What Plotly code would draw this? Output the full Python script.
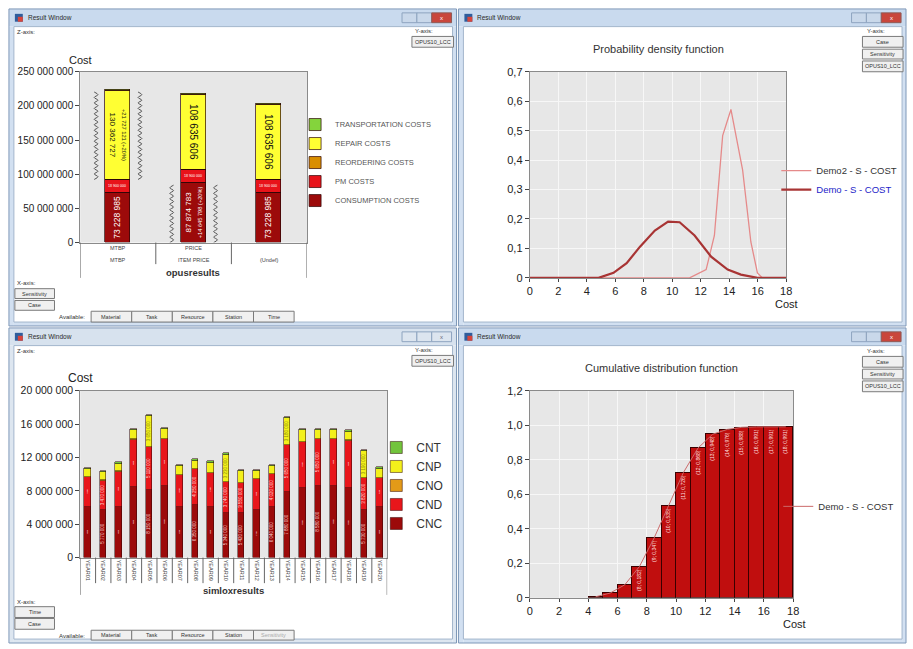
import numpy as np
import plotly.graph_objects as go

W, H = 913, 649
FONT = "Liberation Sans, Arial, sans-serif"

# ---------------- data ----------------
# Top-left window: opusresults (stacked costs)
opus_level1 = ["MTBP", "PRICE", ""]
opus_level2 = ["MTBP", "ITEM PRICE", "(Undef)"]
opus_consumption = [73228985, 87874783, 73228985]
opus_pm = [18900000, 18900000, 18900000]
opus_reordering = [250000, 250000, 250000]
opus_repair = [130362727, 108635606, 108635606]
opus_transport = [1500000, 1500000, 1500000]
opus_names = ["CONSUMPTION COSTS", "PM COSTS", "REORDERING COSTS", "REPAIR COSTS", "TRANSPORTATION COSTS"]
opus_yticks = [0, 50000000, 100000000, 150000000, 200000000, 250000000]

# Top-right window: probability density function
pdf_demo2_x = [0, 4, 8, 11.22, 12.38, 12.96, 13.54, 14.12, 14.94, 15.52, 15.98, 16.33, 18]
pdf_demo2_y = [0, 0, 0, 0, 0.028, 0.144, 0.483, 0.572, 0.367, 0.122, 0.017, 0, 0]
pdf_demo_x = [0, 2, 4, 4.83, 5.88, 6.8, 7.74, 8.78, 9.71, 10.52, 11.57, 12.73, 13.89, 14.82, 15.98, 18]
pdf_demo_y = [0, 0, 0, 0, 0.017, 0.05, 0.106, 0.161, 0.191, 0.189, 0.144, 0.072, 0.028, 0.011, 0, 0]
pdf_xticks = [0, 2, 4, 6, 8, 10, 12, 14, 16, 18]
pdf_yticks = [0, 0.1, 0.2, 0.3, 0.4, 0.5, 0.6, 0.7]

# Bottom-left window: simloxresults (stacked yearly costs)
years = ["YEAR01", "YEAR02", "YEAR03", "YEAR04", "YEAR05", "YEAR06", "YEAR07", "YEAR08", "YEAR09", "YEAR10",
         "YEAR11", "YEAR12", "YEAR13", "YEAR14", "YEAR15", "YEAR16", "YEAR17", "YEAR18", "YEAR19", "YEAR20"]
cnc = [6040000, 5770000, 6040000, 8500000, 8150000, 8580000, 6120000, 6350000, 6040000, 5340000,
       5420000, 5770000, 6040000, 7880000, 8380000, 8580000, 8580000, 8380000, 5730000, 6040000]
cnd = [3630000, 3470000, 4290000, 5650000, 5110000, 5650000, 3820000, 4250000, 4100000, 3740000,
       3550000, 3630000, 4020000, 5650000, 5460000, 5650000, 5650000, 5660000, 3820000, 3510000]
cno = [50000, 50000, 50000, 50000, 50000, 50000, 50000, 50000, 50000, 50000,
       50000, 50000, 50000, 50000, 50000, 50000, 50000, 50000, 50000, 50000]
cnp = [920000, 960000, 890000, 1080000, 3650000, 1120000, 1010000, 970000, 1230000, 3230000,
       1350000, 960000, 890000, 3180000, 1430000, 1040000, 1040000, 1040000, 3190000, 1040000]
cnt = [160000, 150000, 190000, 160000, 140000, 160000, 150000, 190000, 160000, 150000,
       160000, 160000, 150000, 160000, 160000, 160000, 160000, 150000, 150000, 200000]
simlox_names = ["CNC", "CND", "CNO", "CNP", "CNT"]
simlox_yticks = [0, 4000000, 8000000, 12000000, 16000000, 20000000]

# Bottom-right window: cumulative distribution function
cdf_x = [4.5, 5.5, 6.5, 7.5, 8.5, 9.5, 10.5, 11.5, 12.5, 13.5, 14.5, 15.5, 16.5, 17.5]
cdf_y = [0.006, 0.028, 0.076, 0.182, 0.347, 0.535, 0.726, 0.868, 0.948, 0.976, 0.988, 0.991, 0.991, 0.991]
cdf_xticks = [0, 2, 4, 6, 8, 10, 12, 14, 16, 18]
cdf_yticks = [0, 0.2, 0.4, 0.6, 0.8, 1.0, 1.2]


# ---------------- helpers ----------------
def px(x):
    return x / W


def py(y):
    return 1 - y / H


def fmt_int(v):
    return f"{v:,.0f}".replace(",", " ")


def fmt_dec(v, nd=1):
    return "0" if v == 0 else f"{v:.{nd}f}".replace(".", ",")


shapes, annotations = [], []


def rect(x0, y0, x1, y1, fill=None, line=None, lw=1):
    shapes.append(dict(type="rect", xref="paper", yref="paper",
                       x0=px(x0), x1=px(x1), y0=py(y1), y1=py(y0),
                       fillcolor=fill or "rgba(0,0,0,0)",
                       line=dict(color=line or "rgba(0,0,0,0)", width=lw if line else 0)))


def label(x, y, s, size=7, color="#333", xanchor="left", yanchor="middle"):
    annotations.append(dict(xref="paper", yref="paper", x=px(x), y=py(y), text=s, showarrow=False,
                            xanchor=xanchor, yanchor=yanchor, font=dict(size=size, color=color, family=FONT)))


def button(x0, y0, x1, y1, s, color="#333"):
    rect(x0, y0, x1, y1, fill="#f0f0f0", line="#7a7a7a", lw=1)
    label((x0 + x1) / 2, (y0 + y1) / 2, s, size=5.5, color=color, xanchor="center")


def window(x0, y0, x1, y1, active=True):
    frame = "#d2e0f1" if active else "#dde6f0"
    rect(x0, y0, x1, y0 + 18, fill="#c9daee" if active else "#d7e2ee")
    rect(x0, y0 + 18, x0 + 5, y1, fill=frame)
    rect(x1 - 4, y0 + 18, x1, y1, fill=frame)
    rect(x0 + 5, y1 - 4, x1 - 4, y1, fill=frame)
    rect(x0, y0, x1, y1, line="#7f98b8", lw=1)
    rect(x0 + 5, y0 + 18, x1 - 4, y1 - 4, line="#a3b6cc", lw=1)
    rect(x0 + 6, y0 + 5, x0 + 14, y0 + 13, fill="#2f5d9c")
    rect(x0 + 9, y0 + 8, x0 + 14, y0 + 13, fill="#d9453a")
    label(x0 + 17, y0 + 9, "Result Window", size=6.5, color="#2a2a2a")
    bcol = "#c9d8ea" if active else "#dce5ef"
    rect(x1 - 55, y0 + 4, x1 - 40, y0 + 14, fill=bcol, line="#8ea4bf")
    rect(x1 - 40, y0 + 4, x1 - 25, y0 + 14, fill=bcol, line="#8ea4bf")
    rect(x1 - 25, y0 + 4, x1 - 5, y0 + 14, fill="#c9463c" if active else "#dce5ef", line="#8e5a55" if active else "#8ea4bf")
    label(x1 - 15, y0 + 9, "x", size=6, color="#fff" if active else "#667", xanchor="center")


# ---------------- window chrome ----------------
window(6, 3, 458, 326)
window(460, 3, 912, 326)
window(6, 328, 458, 649, active=False)
window(460, 328, 912, 649)

label(12, 26, "Z-axis:", size=6)
label(414, 25, "Y-axis:", size=6)
button(413, 31, 455, 42, "OPUS10_LCC")
label(12, 282, "X-axis:", size=6)
button(12, 288, 52, 298, "Sensitivity")
button(12, 300, 52, 310, "Case")
label(70, 317, "Available:", size=6, xanchor="center")
for i, t in enumerate(["Material", "Task", "Resource", "Station", "Time"]):
    button(89 + 41 * i, 311, 130 + 41 * i, 322, t)

label(871, 25, "Y-axis:", size=6)
button(868, 31, 909, 42, "Case")
button(868, 44, 909, 54, "Sensitivity")
button(868, 56, 909, 67, "OPUS10_LCC")

label(12, 351, "Z-axis:", size=6)
label(414, 350, "Y-axis:", size=6)
button(413, 356, 455, 367, "OPUS10_LCC")
label(12, 607, "X-axis:", size=6)
button(12, 612, 52, 623, "Time")
button(12, 624, 52, 635, "Case")
label(70, 642, "Available:", size=6, xanchor="center")
for i, t in enumerate(["Material", "Task", "Resource", "Station", "Sensitivity"]):
    button(89 + 41 * i, 636, 130 + 41 * i, 646, t, color="#aaa" if i == 4 else "#333")

label(871, 352, "Y-axis:", size=6)
button(868, 357, 909, 368, "Case")
button(868, 370, 909, 380, "Sensitivity")
button(868, 382, 909, 393, "OPUS10_LCC")

# ---------------- traces ----------------
fig = go.Figure()

opus_x = list(range(len(opus_level2)))
base_idx = len(opus_level2) - 1  # reference column ((Undef))
opus_series = [opus_consumption, opus_pm, opus_reordering, opus_repair, opus_transport]
opus_colors = ["#9c0a0a", "#e8131a", "#d98e00", "#ffff33", "#84d43c"]


def seg_text(vals):
    out = []
    for v in vals:
        d = v - vals[base_idx]
        if d != 0:
            pct = round(100 * d / vals[base_idx])
            out.append((fmt_int(v), f"+{fmt_int(d)} (+{pct}%)"))
        else:
            out.append((fmt_int(v), None))
    return out


cons_t = []
for big, small in seg_text(opus_consumption):
    cons_t.append(big if small is None else f"{big}<br><span style='font-size:6px'>{small}</span>")
rep_t = []
for big, small in seg_text(opus_repair):
    rep_t.append(big if small is None else f"<span style='font-size:6px'>{small}</span><br><span style='font-size:8.5px'>{big}</span>")
pm_t = [fmt_int(v) for v in opus_pm]

opus_texts = [cons_t, pm_t, ["", "", ""], rep_t, ["", "", ""]]
opus_angles = [-90, 0, 0, 90, 0]
opus_tsize = [8.5, 4, 4, 10, 4]
opus_tcolor = ["#ffffff", "#ffffff", "#000", "#111111", "#000"]

for name, vals, col, txt, ang, ts, tc in zip(opus_names, opus_series, opus_colors, opus_texts,
                                             opus_angles, opus_tsize, opus_tcolor):
    fig.add_trace(go.Bar(x=opus_x, y=vals, name=name, width=0.33,
                         marker=dict(color=col, line=dict(color="#2b0505", width=0.7)),
                         text=txt, textposition="inside", insidetextanchor="middle",
                         textangle=ang, textfont=dict(size=ts, color=tc, family=FONT),
                         constraintext="inside", cliponaxis=False,
                         xaxis="x", yaxis="y", legend="legend", hoverinfo="skip"))

bottom = np.zeros(len(opus_x))
for si, vals in enumerate(opus_series):
    for i, v in enumerate(vals):
        if v != vals[base_idx]:
            y0 = float(bottom[i])
            y1 = y0 + v
            ys = np.arange(y0, y1 + 1, 4.0e6)
            wig = np.where(np.arange(len(ys)) % 2 == 0, -0.025, 0.025)
            for side in (-1, 1):
                fig.add_trace(go.Scatter(x=(opus_x[i] + side * 0.29 + wig).tolist(), y=ys.tolist(),
                                         mode="lines", line=dict(color="#555", width=1, shape="spline"),
                                         showlegend=False, hoverinfo="skip", xaxis="x", yaxis="y"))
    bottom = bottom + np.array(vals, dtype=float)

fig.add_trace(go.Scatter(x=pdf_demo2_x, y=pdf_demo2_y, mode="lines", name="Demo2 - S - COST",
                         line=dict(color="#e58a8a", width=1.3), xaxis="x2", yaxis="y2",
                         legend="legend2", hoverinfo="skip"))
fig.add_trace(go.Scatter(x=pdf_demo_x, y=pdf_demo_y, mode="lines",
                         name="<span style='color:#2424c8'>Demo - S - COST</span>",
                         line=dict(color="#a83434", width=2.2), xaxis="x2", yaxis="y2",
                         legend="legend2", hoverinfo="skip"))

sim_x = list(range(len(years)))
sim_series = [cnc, cnd, cno, cnp, cnt]
sim_colors = ["#9c0a0a", "#e8161b", "#e39a18", "#f3f01b", "#72c43c"]
sim_texts = [[fmt_int(v) for v in cnc], [fmt_int(v) for v in cnd], [""] * len(cno),
             [fmt_int(v) if v > 2000000 else "" for v in cnp], [""] * len(cnt)]
sim_tcolor = ["#f4d0d0", "#ffd6d6", "#000", "#8a8a10", "#000"]
for name, vals, col, txt, tc in zip(simlox_names, sim_series, sim_colors, sim_texts, sim_tcolor):
    fig.add_trace(go.Bar(x=sim_x, y=vals, name=name, width=0.43,
                         marker=dict(color=col, line=dict(color="#2b0505", width=0.5)),
                         text=txt, textposition="inside", insidetextanchor="middle",
                         textangle=-90, textfont=dict(size=4.5, color=tc, family=FONT),
                         xaxis="x3", yaxis="y3", legend="legend3", hoverinfo="skip"))

fig.add_trace(go.Bar(x=cdf_x, y=cdf_y, width=1.0, showlegend=False,
                     marker=dict(color="#c00e0e", line=dict(color="#3a0000", width=1)),
                     text=[f"({int(c + 0.5)}; {fmt_dec(v, 3)})" if v > 0.15 else "" for c, v in zip(cdf_x, cdf_y)],
                     textposition="inside", insidetextanchor="end", textangle=-90,
                     textfont=dict(size=5, color="#ffe0e0", family=FONT),
                     xaxis="x4", yaxis="y4", hoverinfo="skip"))
fig.add_trace(go.Scatter(x=cdf_x, y=cdf_y, mode="lines", name="Demo - S - COST",
                         line=dict(color="#cc6a6a", width=1), xaxis="x4", yaxis="y4",
                         legend="legend4", hoverinfo="skip"))

# ---------------- axis decorations ----------------
for k in range(len(opus_x) + 1):
    edge = k == 0 or k == len(opus_x)
    shapes.append(dict(type="line", xref="x", yref="paper", x0=k - 0.5, x1=k - 0.5,
                       y0=py(277 if edge else 263), y1=py(241), line=dict(color="#666", width=1)))
for i in opus_x:
    annotations.append(dict(xref="x", yref="paper", x=i, y=py(247), text=opus_level1[i], showarrow=False,
                            font=dict(size=5.5, color="#444", family=FONT)))
    annotations.append(dict(xref="x", yref="paper", x=i, y=py(259), text=opus_level2[i], showarrow=False,
                            font=dict(size=5.5, color="#444", family=FONT)))
label(192, 272, "<b>opusresults</b>", size=9.5, color="#333", xanchor="center")
label(78, 55, "Cost", size=11, color="#222", xanchor="center")

for k in range(len(sim_x) + 1):
    edge = k == 0 or k == len(sim_x)
    shapes.append(dict(type="line", xref="x3", yref="paper", x0=k - 0.5, x1=k - 0.5,
                       y0=py(600 if edge else 588), y1=py(562), line=dict(color="#666", width=1)))
label(233, 596, "<b>simloxresults</b>", size=9.5, color="#333", xanchor="center")
label(78, 379, "Cost", size=12, color="#222", xanchor="center")

label(662, 44, "Probability density function", size=11, color="#333", xanchor="center")
label(791, 304, "Cost", size=11, color="#222", xanchor="center")
label(665, 369, "Cumulative distribution function", size=11, color="#333", xanchor="center")
label(799, 630, "Cost", size=11, color="#222", xanchor="center")

# ---------------- layout ----------------
axis_common = dict(showline=True, mirror=True, linecolor="#8a8a8a", linewidth=1, zeroline=False,
                   fixedrange=True, tickfont=dict(size=10.5, color="#222", family=FONT),
                   ticks="outside", ticklen=4, tickcolor="#444")

layout = dict(
    width=W, height=H, autosize=False,
    margin=dict(l=0, r=0, t=0, b=0),
    paper_bgcolor="#ffffff", plot_bgcolor="#e7e7e7",
    barmode="stack", bargap=0,
    font=dict(family=FONT, color="#222"),
    shapes=shapes, annotations=annotations,
    xaxis=dict(axis_common, domain=[px(78), px(307)], range=[-0.5, 2.5], showticklabels=False,
               ticks="", showgrid=False, anchor="y"),
    yaxis=dict(axis_common, domain=[py(241), py(67)], range=[0, 250000000], tickvals=opus_yticks,
               ticktext=[fmt_int(v) for v in opus_yticks], showgrid=False, anchor="x",
               tickfont=dict(size=10, color="#222", family=FONT)),
    xaxis2=dict(axis_common, domain=[px(532), px(791)], range=[0, 18], tickvals=pdf_xticks,
                ticktext=[str(v) for v in pdf_xticks], showgrid=True, gridcolor="#f7f7f7", ticklen=3,
                tickfont=dict(size=11, color="#222", family=FONT), anchor="y2"),
    yaxis2=dict(axis_common, domain=[py(277), py(67)], range=[0, 0.7], tickvals=pdf_yticks,
                ticktext=[fmt_dec(v) for v in pdf_yticks], showgrid=True, gridcolor="#f7f7f7",
                tickfont=dict(size=11, color="#222", family=FONT), anchor="x2"),
    xaxis3=dict(axis_common, domain=[px(78), px(388)], range=[-0.5, len(years) - 0.5], tickvals=sim_x,
                ticktext=years, tickangle=90, ticks="", showgrid=False,
                tickfont=dict(size=5.5, color="#444", family=FONT), anchor="y3"),
    yaxis3=dict(axis_common, domain=[py(562), py(392)], range=[0, 20000000], tickvals=simlox_yticks,
                ticktext=[fmt_int(v) for v in simlox_yticks], showgrid=False, anchor="x3"),
    xaxis4=dict(axis_common, domain=[px(532), px(798)], range=[0, 18], tickvals=cdf_xticks,
                ticktext=[str(v) for v in cdf_xticks], showgrid=True, gridcolor="#f7f7f7", ticklen=3,
                tickfont=dict(size=11, color="#222", family=FONT), anchor="y4"),
    yaxis4=dict(axis_common, domain=[py(603), py(392)], range=[0, 1.2], tickvals=cdf_yticks,
                ticktext=[fmt_dec(v) for v in cdf_yticks], showgrid=True, gridcolor="#f7f7f7",
                tickfont=dict(size=11, color="#222", family=FONT), anchor="x4"),
    legend=dict(x=px(295), y=py(106), xanchor="left", yanchor="top", traceorder="reversed",
                bgcolor="rgba(0,0,0,0)", font=dict(size=7.5, color="#555", family=FONT)),
    legend2=dict(x=px(781), y=py(153), xanchor="left", yanchor="top", traceorder="normal",
                 bgcolor="rgba(0,0,0,0)", font=dict(size=9.5, color="#333", family=FONT)),
    legend3=dict(x=px(377), y=py(435), xanchor="left", yanchor="top", traceorder="reversed",
                 bgcolor="rgba(0,0,0,0)", font=dict(size=12, color="#333", family=FONT)),
    legend4=dict(x=px(783), y=py(495), xanchor="left", yanchor="top",
                 bgcolor="rgba(0,0,0,0)", font=dict(size=9.5, color="#333", family=FONT)),
)
fig.update_layout(**layout)
fig.write_html("out.html", config={"displayModeBar": False},
               post_script="document.body.style.margin='0px';")
